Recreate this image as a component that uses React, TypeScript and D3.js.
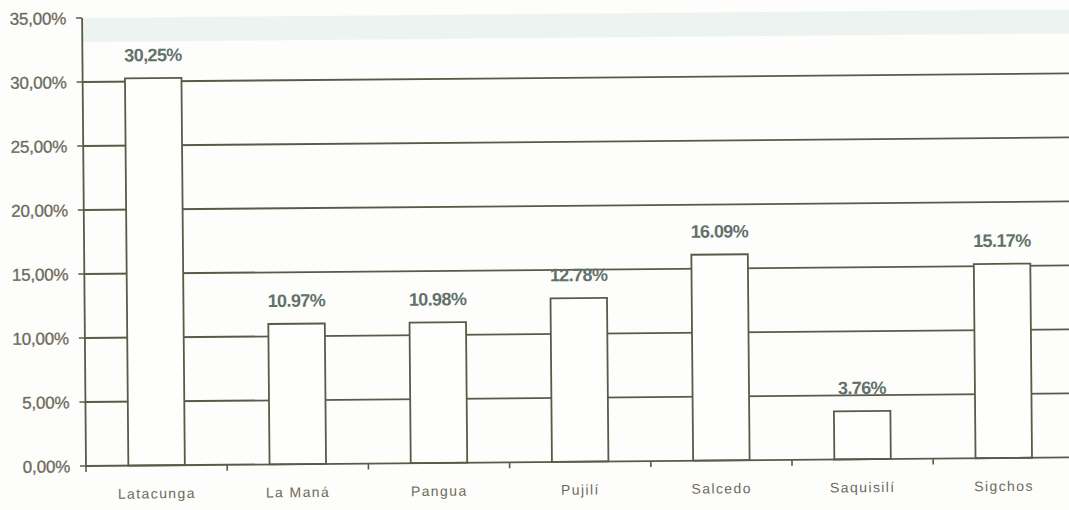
import React from "react";
import * as d3 from "d3";

const categories = ["Latacunga", "La Maná", "Pangua", "Pujilí", "Salcedo", "Saquisilí", "Sigchos"];
const values = [30.25, 10.97, 10.98, 12.78, 16.09, 3.76, 15.17];
const valueLabels = ["30,25%", "10.97%", "10.98%", "12.78%", "16.09%", "3.76%", "15.17%"];
const yTicks = [0, 5, 10, 15, 20, 25, 30, 35];
const yTickLabels = ["0,00%", "5,00%", "10,00%", "15,00%", "20,00%", "25,00%", "30,00%", "35,00%"];

const W = 1069;
const H = 510;
const left = 86;
const bottom = 466;
const top = 18;
const step = 141.2;

const ink = "#5b5a48";
const textInk = "#6d6a5c";
const labelInk = "#62726b";

export default function App() {
  const x = d3
    .scaleBand<string>()
    .domain(categories)
    .range([left, left + step * categories.length])
    .paddingInner(0.6)
    .paddingOuter(0.3);
  const y = d3.scaleLinear().domain([0, 35]).range([bottom, top]);
  const right = left + step * categories.length;
  const bw = x.bandwidth();

  return (
    <svg
      width={W}
      height={H}
      style={{ position: "absolute", left: 0, top: 0, background: "#fdfdfb" }}
      fontFamily="'Liberation Sans', Arial, sans-serif"
    >
      <rect x={0} y={0} width={W} height={H} fill="#fdfdfb" />
      <g transform={`rotate(-0.5, ${left}, ${bottom})`}>
        {/* faint tinted strip along the top of the plot */}
        <rect x={left} y={y(35)} width={right - left} height={24} fill="#e3ecea" opacity={0.6} />

        {/* horizontal gridlines */}
        {yTicks
          .filter((t) => t > 0 && t < 35)
          .map((t) => (
            <line key={t} x1={left} x2={right} y1={y(t)} y2={y(t)} stroke={ink} strokeWidth={1.8} />
          ))}

        {/* bars */}
        {categories.map((c, i) => (
          <rect
            key={c}
            x={x(c)}
            y={y(values[i])}
            width={bw}
            height={y(0) - y(values[i])}
            fill="#fefefc"
            stroke={ink}
            strokeWidth={1.8}
          />
        ))}

        {/* value labels */}
        {categories.map((c, i) => (
          <text
            key={c}
            x={(x(c) as number) + bw / 2}
            y={y(values[i]) - 17}
            textAnchor="middle"
            fontSize={18}
            fontWeight="bold"
            letterSpacing={-0.6}
            fill={labelInk}
          >
            {valueLabels[i]}
          </text>
        ))}

        {/* y axis */}
        <line x1={left} x2={left} y1={y(35)} y2={y(0)} stroke={ink} strokeWidth={1.8} />
        {yTicks.map((t, i) => (
          <g key={t}>
            <line x1={left - 6} x2={left} y1={y(t)} y2={y(t)} stroke={ink} strokeWidth={1.6} />
            <text
              x={left - 16}
              y={y(t)}
              dy="0.36em"
              textAnchor="end"
              fontSize={17}
              letterSpacing={-0.2}
              fill={textInk}
              stroke={textInk}
              strokeWidth={0.3}
            >
              {yTickLabels[i]}
            </text>
          </g>
        ))}

        {/* x axis */}
        <line x1={left} x2={right} y1={y(0)} y2={y(0)} stroke={ink} strokeWidth={1.8} />
        {d3.range(categories.length + 1).map((k) => (
          <line
            key={k}
            x1={left + k * step}
            x2={left + k * step}
            y1={y(0)}
            y2={y(0) + 6}
            stroke={ink}
            strokeWidth={1.6}
          />
        ))}
        {categories.map((c) => (
          <text
            key={c}
            x={(x(c) as number) + bw / 2}
            y={y(0) + 33}
            textAnchor="middle"
            fontSize={14}
            letterSpacing={1.4}
            fill={textInk}
          >
            {c}
          </text>
        ))}
      </g>
    </svg>
  );
}
